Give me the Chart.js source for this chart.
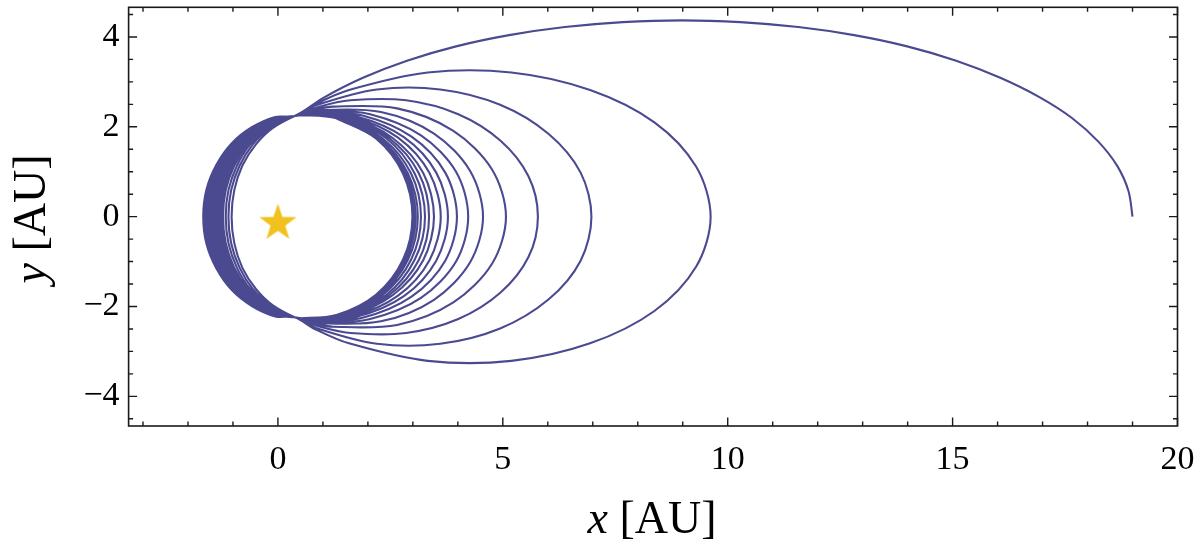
<!DOCTYPE html>
<html>
<head>
<meta charset="utf-8">
<script src="https://cdn.jsdelivr.net/npm/chart.js@4.4.1/dist/chart.umd.min.js"></script>
<style>
  html, body { margin: 0; padding: 0; background: #fff; }
  #c { display: block; }
</style>
</head>
<body>
<canvas id="c" width="1200" height="552"></canvas>
<script>
// tick labels and minor ticks of the frame
const xTicks = [0, 5, 10, 15, 20];
const yTicks = [-4, -2, 0, 2, 4];
const xMinor = [-3, -2, -1, 1, 2, 3, 4, 6, 7, 8, 9, 11, 12, 13, 14, 16, 17, 18, 19];
const yMinor = [-4.5, -3.5, -3, -2.5, -1.5, -1, -0.5, 0.5, 1, 1.5, 2.5, 3, 3.5, 4.5];

const starPos = [{ x: 0, y: -0.1 }];
const pinch = [0.37, 2.24];

// upper right arcs of each revolution, from the right crossing towards the pinch point
const rightArcs = [
  [[19, 0], [18.91, 0.57], [18.66, 1.13], [18.24, 1.67], [17.66, 2.19], [16.93, 2.66], [16.06, 3.09], [15.08, 3.47],
   [13.99, 3.79], [12.81, 4.04], [11.57, 4.22], [10.28, 4.33], [8.98, 4.37], [7.67, 4.33], [6.38, 4.22], [5.14, 4.04],
   [3.96, 3.79], [2.87, 3.47], [1.89, 3.09], [1.02, 2.65]],
  [[9.62, 0], [9.30, 1.11], [8.37, 2.10], [6.94, 2.82], [5.19, 3.21], [3.33, 3.21], [1.58, 2.82], [0.82, 2.50]],
  [[6.97, 0], [6.73, 0.98], [6.02, 1.84], [4.94, 2.49], [3.61, 2.83], [2.20, 2.83], [0.88, 2.49]],
  [[5.78, 0], [5.57, 0.90], [4.95, 1.69], [4.01, 2.28], [2.85, 2.59], [1.61, 2.59], [0.90, 2.44]],
  [[5.07, 0], [4.76, 1.05], [3.90, 1.91], [2.65, 2.41], [1.23, 2.45], [0.79, 2.37]],
  [[4.56, 0], [4.27, 1.02], [3.47, 1.85], [2.29, 2.33], [0.97, 2.37]],
  [[4.23, 0], [3.96, 1.00], [3.18, 1.81], [2.05, 2.28], [1.04, 2.35]],
  [[3.98, 0], [3.72, 0.98], [2.97, 1.78], [1.88, 2.25], [0.90, 2.32]],
  [[3.78, 0], [3.52, 0.98], [2.80, 1.77], [1.75, 2.23], [0.80, 2.30]],
  [[3.62, 0], [3.37, 0.97], [2.67, 1.76], [1.66, 2.22], [0.74, 2.29]],
  [[3.47, 0], [3.23, 0.97], [2.55, 1.75], [1.57, 2.21], [0.68, 2.28]],
  [[3.36, 0], [3.13, 0.97], [2.47, 1.75], [1.51, 2.21], [0.65, 2.28]],
  [[3.27, 0], [3.04, 0.96], [2.40, 1.75], [1.46, 2.20], [0.61, 2.27]],
  [[3.18, 0], [2.96, 0.96], [2.33, 1.74], [1.41, 2.20], [0.58, 2.27]],
  [[3.11, 0], [2.89, 0.96], [2.27, 1.74], [1.36, 2.19], [0.55, 2.26]],
  [[3.06, 0], [2.84, 0.96], [2.23, 1.74], [1.34, 2.19], [0.54, 2.26]],
  [[3.02, 0], [2.80, 0.96], [2.20, 1.74], [1.31, 2.19], [0.51, 2.26]],
  [[2.99, 0], [2.78, 0.96], [2.18, 1.74], [1.30, 2.19], [0.51, 2.26]],
];

// upper left arcs, from the pinch point down to the left crossing
const leftArcs = [
  [[-0.06, 2.22], [-0.58, 1.99], [-1.03, 1.63], [-1.37, 1.15], [-1.59, 0.60], [-1.66, 0]],
  [[-0.04, 2.20], [-0.56, 1.97], [-1.00, 1.61], [-1.34, 1.14], [-1.56, 0.59], [-1.63, 0]],
  [[-0.03, 2.20], [-0.54, 1.97], [-0.98, 1.61], [-1.32, 1.14], [-1.53, 0.59], [-1.60, 0]],
  [[-0.01, 2.20], [-0.52, 1.97], [-0.96, 1.61], [-1.29, 1.14], [-1.50, 0.59], [-1.57, 0]],
  [[0.00, 2.20], [-0.50, 1.97], [-0.93, 1.61], [-1.26, 1.14], [-1.47, 0.59], [-1.54, 0]],
  [[0.02, 2.20], [-0.48, 1.97], [-0.91, 1.61], [-1.23, 1.14], [-1.44, 0.59], [-1.51, 0]],
  [[0.03, 2.20], [-0.46, 1.97], [-0.88, 1.61], [-1.21, 1.14], [-1.41, 0.59], [-1.48, 0]],
  [[0.05, 2.20], [-0.44, 1.97], [-0.86, 1.61], [-1.18, 1.14], [-1.38, 0.59], [-1.45, 0]],
  [[0.06, 2.20], [-0.42, 1.97], [-0.83, 1.61], [-1.15, 1.14], [-1.35, 0.59], [-1.42, 0]],
  [[0.08, 2.20], [-0.40, 1.97], [-0.81, 1.61], [-1.13, 1.14], [-1.32, 0.59], [-1.39, 0]],
  [[0.09, 2.20], [-0.38, 1.97], [-0.79, 1.61], [-1.10, 1.14], [-1.29, 0.59], [-1.36, 0]],
  [[0.11, 2.20], [-0.36, 1.97], [-0.76, 1.61], [-1.07, 1.14], [-1.26, 0.59], [-1.33, 0]],
  [[0.12, 2.20], [-0.34, 1.97], [-0.74, 1.61], [-1.04, 1.14], [-1.24, 0.59], [-1.30, 0]],
  [[-0.31, 1.97], [-0.70, 1.61], [-1.01, 1.14], [-1.20, 0.59], [-1.26, 0]],
  [[-0.28, 1.97], [-0.67, 1.61], [-0.97, 1.14], [-1.16, 0.59], [-1.22, 0]],
  [[-0.23, 1.97], [-0.62, 1.61], [-0.91, 1.14], [-1.10, 0.59], [-1.16, 0]],
  [[-0.18, 1.97], [-0.56, 1.61], [-0.85, 1.14], [-1.04, 0.59], [-1.10, 0]],
  [[-0.12, 1.97], [-0.49, 1.61], [-0.79, 1.14], [-0.97, 0.59], [-1.03, 0]],
];

const C = { line: "#4b4a90", star: "#f1c21f", frame: "#1a1a1a", text: "#000" };
const FONT = '"Liberation Serif", "Times New Roman", serif';

// one continuous spiral: upper arc, left arc, then the (mirrored) lower arc of the next revolution
const pt = ([x, y], s = 1) => ({ x, y: s * y });
const spiral = [];
rightArcs.forEach((arc, k) => {
  arc.forEach((p) => spiral.push(pt(p)));
  spiral.push(pt(pinch));
  const left = leftArcs[k];
  left.forEach((p) => spiral.push(pt(p)));
  left.slice(0, -1).reverse().forEach((p) => spiral.push(pt(p, -1)));
  spiral.push(pt(pinch, -1));
  const next = rightArcs[k + 1];
  if (next) next.slice(1).reverse().forEach((p) => spiral.push(pt(p, -1)));
  else {
    // close the innermost loop and run on over its own upper arc so the end leaves no dent
    arc.slice().reverse().forEach((p) => spiral.push(pt(p, -1)));
    arc.slice(1, 4).forEach((p) => spiral.push(pt(p)));
  }
});

// five-pointed star marker
function starImage(r, color) {
  const cv = document.createElement("canvas");
  cv.width = cv.height = Math.ceil(r * 2 + 4);
  const g = cv.getContext("2d");
  const c = cv.width / 2;
  g.beginPath();
  for (let i = 0; i < 10; i++) {
    const rad = i % 2 ? r * 0.4 : r;
    const a = -Math.PI / 2 + (i * Math.PI) / 5;
    g.lineTo(c + rad * Math.cos(a), c + 2 + rad * Math.sin(a));
  }
  g.closePath();
  g.fillStyle = color;
  g.fill();
  return cv;
}

const frame = {
  id: "frame",
  afterDraw(chart) {
    const { ctx, chartArea: a, scales: { x, y } } = chart;
    ctx.save();
    ctx.strokeStyle = C.frame;
    ctx.lineWidth = 1.6;
    ctx.strokeRect(a.left, a.top, a.right - a.left, a.bottom - a.top);
    ctx.lineWidth = 1.4;
    ctx.beginPath();
    const xt = (v, len) => {
      const px = x.getPixelForValue(v);
      ctx.moveTo(px, a.bottom); ctx.lineTo(px, a.bottom - len);
      ctx.moveTo(px, a.top); ctx.lineTo(px, a.top + len);
    };
    const yt = (v, len) => {
      const py = y.getPixelForValue(v);
      ctx.moveTo(a.left, py); ctx.lineTo(a.left + len, py);
      ctx.moveTo(a.right, py); ctx.lineTo(a.right - len, py);
    };
    xTicks.forEach((v) => xt(v, 8.5));
    xMinor.forEach((v) => xt(v, 4.5));
    yTicks.forEach((v) => yt(v, 8.5));
    yMinor.forEach((v) => yt(v, 4.5));
    ctx.stroke();

    // axis titles: italic variable, upright unit
    ctx.fillStyle = C.text;
    ctx.textBaseline = "alphabetic";
    const title = (v, unit, cx, cy, rot) => {
      ctx.save();
      ctx.translate(cx, cy);
      ctx.rotate(rot);
      ctx.font = `italic 46px ${FONT}`;
      const w1 = ctx.measureText(v).width;
      ctx.font = `46px ${FONT}`;
      const w2 = ctx.measureText(unit).width;
      const x0 = -(w1 + w2) / 2;
      ctx.font = `italic 46px ${FONT}`;
      ctx.fillText(v, x0, 0);
      ctx.font = `46px ${FONT}`;
      ctx.fillText(unit, x0 + w1, 0);
      ctx.restore();
    };
    title("x", " [AU]", 652, 533, 0);
    title("y", " [AU]", 45, 219, -Math.PI / 2);
    ctx.restore();
  },
};

const tickFont = { family: FONT, size: 34 };
const fmt = (v) => (v < 0 ? "\u2212" + Math.abs(v) : String(v));

new Chart(document.getElementById("c"), {
  type: "scatter",
  data: {
    datasets: [
      {
        data: spiral, showLine: true, borderColor: C.line, borderWidth: 2.1,
        pointRadius: 0, tension: 0.32, fill: false,
      },
      {
        data: starPos, pointStyle: starImage(19.5, C.star), pointRadius: 19,
        backgroundColor: C.star, borderWidth: 0,
      },
    ],
  },
  options: {
    responsive: false, animation: false, devicePixelRatio: 1,
    layout: { autoPadding: false, padding: { top: 7.3, right: 22.5, left: 0, bottom: 0 } },
    plugins: { legend: { display: false }, tooltip: { enabled: false } },
    scales: {
      x: {
        type: "linear", min: -3.32, max: 20,
        afterBuildTicks: (s) => { s.ticks = xTicks.map((v) => ({ value: v })); },
        afterFit: (s) => { s.height = 126; s.paddingLeft = 0; s.paddingRight = 0; },
        grid: { display: false, drawTicks: false }, border: { display: false },
        ticks: { font: tickFont, color: C.text, padding: 14, maxRotation: 0, callback: fmt },
      },
      y: {
        type: "linear", min: -4.66, max: 4.66,
        afterBuildTicks: (s) => { s.ticks = yTicks.map((v) => ({ value: v })); },
        afterFit: (s) => { s.width = 128.6; s.paddingTop = 0; s.paddingBottom = 0; },
        grid: { display: false, drawTicks: false }, border: { display: false },
        ticks: { font: tickFont, color: C.text, padding: 9, callback: fmt },
      },
    },
  },
  plugins: [frame],
});
</script>
</body>
</html>
